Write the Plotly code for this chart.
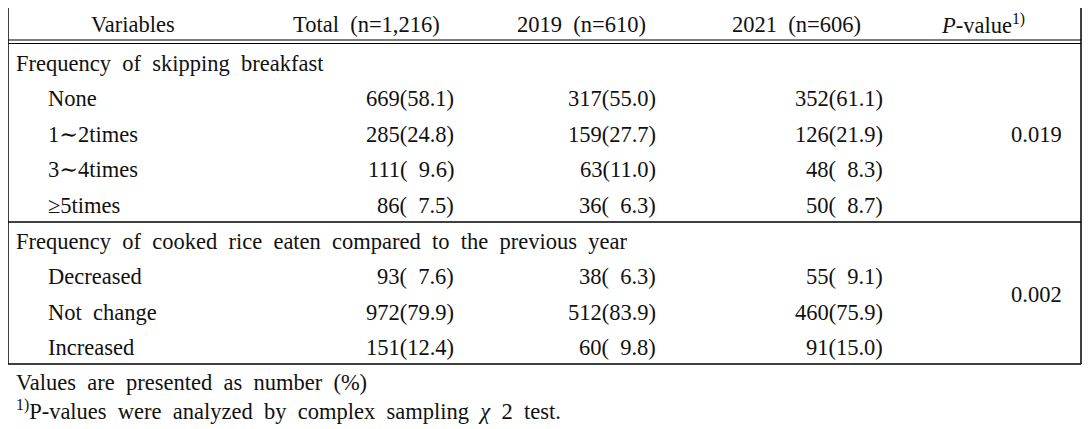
import plotly.graph_objects as go

# ---- data ----
columns = ["Variables", "Total (n=1,216)", "2019 (n=610)", "2021 (n=606)", "<i>P</i>-value<sup>1)</sup>"]
groups = ["Frequency of skipping breakfast",
          "Frequency of cooked rice eaten compared to the previous year"]
items_g1 = ["None", "1∼2times", "3∼4times", "≥5times"]
items_g2 = ["Decreased", "Not change", "Increased"]

total_n = [669, 285, 111, 86, 93, 972, 151]
total_pct = [58.1, 24.8, 9.6, 7.5, 7.6, 79.9, 12.4]
y2019_n = [317, 159, 63, 36, 38, 512, 60]
y2019_pct = [55.0, 27.7, 11.0, 6.3, 6.3, 83.9, 9.8]
y2021_n = [352, 126, 48, 50, 55, 460, 91]
y2021_pct = [61.1, 21.9, 8.3, 8.7, 9.1, 75.9, 15.0]
p_values = ["0.019", "0.002"]

footnotes = ["Values are presented as number (%)",
             "<sup>1)</sup>P-values were analyzed by complex sampling <i>χ</i> 2 test."]

# ---- layout helpers ----
PAGE_W, PAGE_H, BODY = 1092, 429, 8   # page has an 8px body margin
W, H = PAGE_W - BODY, PAGE_H - BODY
FONT = "'Liberation Serif', 'DejaVu Serif', serif"
FS = 22.5
COL = "#111111"
SP = "\u00a0"


def wide(s):
    return s.replace(" ", SP + " ")


def cell(n, p):
    ps = f"{p:.1f}"
    if p < 10:
        ps = SP + SP + ps
    return f"{n}({ps})"


row_y0, row_dy = 63, 35.6
header_y = 24
x_label_group = 15
x_label_item = 47
x_header = [133, 366, 581, 796, 983]
x_val_right = [455, 657, 884]
x_p = 1036

ann = []


def add(text, x, y, anchor="left", size=FS):
    ann.append(dict(text=text, x=x, y=y, xref="x", yref="y", xanchor=anchor,
                    yanchor="middle", showarrow=False, borderpad=0,
                    font=dict(family=FONT, size=size, color=COL)))


for i, h in enumerate(columns):
    add(wide(h) if i else h, x_header[i], header_y, "center")

rows = []  # (kind, label, data_index, group)
di = 0
for g, (grp, items) in enumerate(zip(groups, [items_g1, items_g2])):
    rows.append(("group", grp, None, g))
    for it in items:
        rows.append(("item", it, di, g))
        di += 1

group_rows = {0: [], 1: []}
for r, (kind, label, idx, g) in enumerate(rows):
    y = row_y0 + r * row_dy
    group_rows[g].append(y)
    if kind == "group":
        add(wide(label), x_label_group, y)
    else:
        add(wide(label), x_label_item, y)
        add(cell(total_n[idx], total_pct[idx]), x_val_right[0], y, "right")
        add(cell(y2019_n[idx], y2019_pct[idx]), x_val_right[1], y, "right")
        add(cell(y2021_n[idx], y2021_pct[idx]), x_val_right[2], y, "right")

for g, pv in enumerate(p_values):
    ys = group_rows[g]
    add(pv, x_p, (ys[0] + ys[-1]) / 2, "center")

add(wide(footnotes[0]), x_label_group, 382)
add(wide(footnotes[1]), x_label_group, 410)

# ---- lines ----
L, R = 8, 1081
top, hd1, hd2, sec, bot = 7, 40, 43.5, 222, 364
line = dict(color="#000000", width=1.5)
shapes = [
    dict(type="line", x0=L, x1=R, y0=top, y1=top, line=line),
    dict(type="line", x0=L, x1=R, y0=hd1, y1=hd1, line=dict(color="#000", width=1.2)),
    dict(type="line", x0=L, x1=R, y0=hd2, y1=hd2, line=dict(color="#000", width=1.2)),
    dict(type="line", x0=L, x1=R, y0=sec, y1=sec, line=line),
    dict(type="line", x0=L, x1=R, y0=bot, y1=bot, line=line),
    dict(type="line", x0=L, x1=L, y0=top, y1=bot, line=line),
    dict(type="line", x0=R, x1=R, y0=top, y1=bot, line=line),
]
for s in shapes:
    s.update(xref="x", yref="y")

fig = go.Figure()
fig.update_layout(
    width=W, height=H,
    margin=dict(l=0, r=0, t=0, b=0),
    paper_bgcolor="white", plot_bgcolor="white",
    xaxis=dict(range=[BODY, PAGE_W], visible=False, fixedrange=True),
    yaxis=dict(range=[PAGE_H, BODY], visible=False, fixedrange=True),
    annotations=ann, shapes=shapes, showlegend=False,
)
fig.write_html("out.html")
